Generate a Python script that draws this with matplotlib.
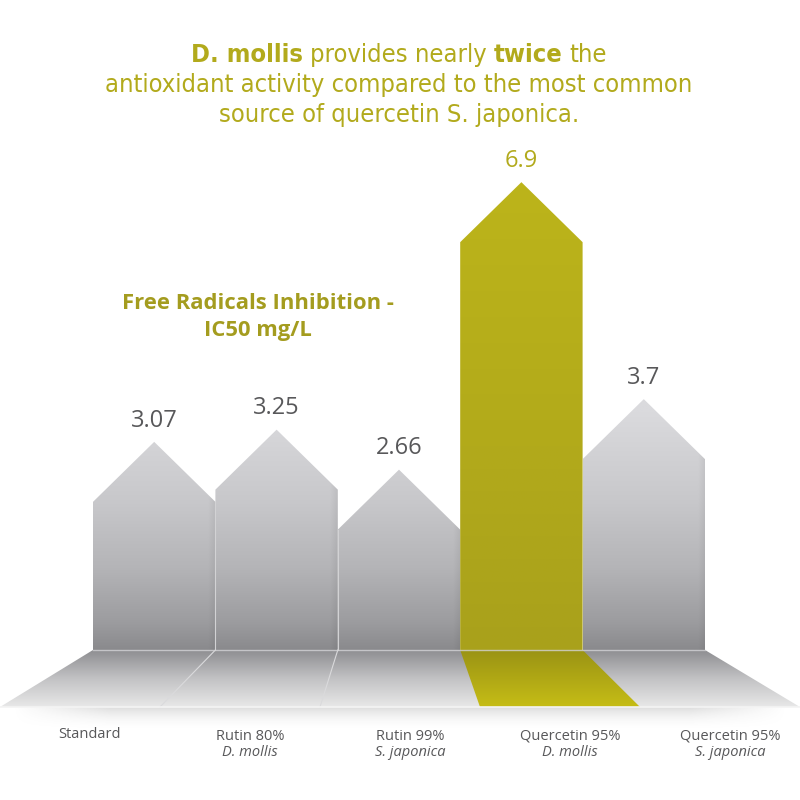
import numpy as np
import matplotlib
matplotlib.use("Agg")
import matplotlib.pyplot as plt
from matplotlib.patches import Polygon
from matplotlib.colors import to_rgb

categories = ["Standard", "Rutin 80%", "Rutin 99%", "Quercetin 95%", "Quercetin 95%"]
sources = ["", "D. mollis", "S. japonica", "D. mollis", "S. japonica"]
values = [3.07, 3.25, 2.66, 6.9, 3.7]
value_labels = ["3.07", "3.25", "2.66", "6.9", "3.7"]
highlight = 3

title_lines = [
    [("D. mollis", "bold"), ("provides nearly", "normal"), ("twice", "bold"), ("the", "normal")],
    [("antioxidant activity compared to the most common", "normal")],
    [("source of quercetin S. japonica.", "normal")],
]
subtitle = "Free Radicals Inhibition -\nIC50 mg/L"

OLIVE = "#b2aa1c"
GRAY_TXT = "#58585a"
TITLE_FONT = ["DejaVu Sans"]
BODY_FONT = ["Open Sans", "DejaVu Sans"]

# scale: pixels per data unit
PX_X = 122.4
PX_Y = 67.8
TIP = 60 / PX_Y

fig = plt.figure(figsize=(8, 8), dpi=100)
ax = fig.add_axes([0, 0, 1, 1])
x0 = -0.5 - 93 / PX_X
x1 = x0 + 800 / PX_X
y0 = -150 / PX_Y
y1 = y0 + 800 / PX_Y
y_front = -57 / PX_Y
n = len(values)


def xb(x):
    # perspective: where a bar edge lands on the front edge of the floor
    return x0 + (x + 0.5) * (x1 - x0) / n


def ramp(pos, stops, cols):
    c = np.array([to_rgb(h) for h in cols])
    return np.stack([np.interp(pos, stops, c[:, k]) for k in range(3)], axis=-1)


def clipped_image(verts, img, extent, z):
    patch = Polygon(verts, closed=True, fc="none", ec="none")
    ax.add_patch(patch)
    im = ax.imshow(img, extent=extent, origin="lower", aspect="auto",
                   interpolation="bilinear", zorder=z)
    im.set_clip_path(patch)
    return im


# floor
fy = np.linspace(y_front, 0, 200)
floor_rgb = ramp((0 - fy) / (0 - y_front), [0, 0.5, 1], ["#8e8e91", "#c2c2c4", "#e8e8e8"])
floor_img = np.repeat(floor_rgb[:, None, :], 4, axis=1)
floor_verts = [(-0.5, 0), (4.5, 0), (xb(4.5), y_front), (xb(-0.5), y_front)]
clipped_image(floor_verts, floor_img, (x0, x1, y_front, 0), 1)

# soft shadow under floor edge
sh_h = 24 / PX_Y
sy = np.linspace(0, 1, 60)
sx = np.linspace(0, 1, 200)
alpha = (sy[:, None] ** 2) * 0.3 * np.clip(np.minimum(sx, 1 - sx)[None, :] * 8, 0, 1)
shadow = np.zeros((60, 200, 4))
shadow[..., :3] = 0.55
shadow[..., 3] = alpha
ax.imshow(shadow, extent=(x0 + 0.1, x1 - 0.1, y_front - sh_h, y_front), origin="lower",
          aspect="auto", interpolation="bilinear", zorder=0.5)

# highlighted strip on the floor
hx = highlight
hy_rgb = ramp((0 - fy) / (0 - y_front), [0, 1], ["#9a9314", "#c6bd16"])
clipped_image([(hx - 0.5, 0), (hx + 0.5, 0), (xb(hx + 0.5), y_front), (xb(hx - 0.5), y_front)],
              np.repeat(hy_rgb[:, None, :], 4, axis=1), (x0, x1, y_front, 0), 1.5)

# bars as arrow shapes
by = np.linspace(0, 7.2, 400)
gray_rgb = ramp(by, [0, 0.4, 1.2, 2.2, 3.5], ["#8a8a8d", "#9c9c9f", "#b4b4b7", "#c8c8cb", "#dadadd"])
u = np.linspace(0, 1, 120)
shade = 1 - 0.06 * np.clip((u - 0.94) / 0.06, 0, 1)
gray_img = gray_rgb[:, None, :] * shade[None, :, None]
yel_rgb = ramp(by, [0, 3, 7.2], ["#a9a11b", "#b2aa1b", "#bdb51a"])
yel_img = np.repeat(yel_rgb[:, None, :], 4, axis=1)

for i, v in enumerate(values):
    verts = [(i - 0.5, 0), (i - 0.5, v - TIP), (i, v), (i + 0.5, v - TIP), (i + 0.5, 0)]
    img = yel_img if i == highlight else gray_img
    clipped_image(verts, img, (i - 0.5, i + 0.5, 0, 7.2), 2)
    ax.annotate(value_labels[i], (i, v), xytext=(0, 11), textcoords="offset points",
                ha="center", va="baseline", fontsize=17, family=BODY_FONT,
                color=OLIVE if i == highlight else GRAY_TXT, zorder=4)

# separators between neighbouring gray bars and on the floor
for i in range(n - 1):
    if highlight in (i, i + 1):
        continue
    top = min(values[i], values[i + 1]) - TIP
    ax.plot([i + 0.5, i + 0.5], [0, top], color="#d2d2d4", lw=0.8, zorder=3)
    ax.plot([i + 0.5, xb(i + 0.5)], [0, y_front], color="#dadadc", lw=0.8, zorder=3)
ax.plot([-0.5, 4.5], [0, 0], color="#d4d4d6", lw=1.0, alpha=0.8, zorder=3)
ax.plot([xb(-0.5), xb(4.5)], [y_front, y_front], color="#f4f4f4", lw=1.2, zorder=3)

# category labels under the floor
for i, (cat, src) in enumerate(zip(categories, sources)):
    lx = xb(i) + 0.08
    if src:
        ax.text(lx, (650 - 736) / PX_Y, cat, ha="center", va="center", fontsize=10.5,
                family=BODY_FONT, color=GRAY_TXT, zorder=4)
        ax.text(lx, (650 - 752) / PX_Y, src, ha="center", va="center", fontsize=10.5,
                family=BODY_FONT, style="italic", color=GRAY_TXT, zorder=4)
    else:
        ax.text(lx, (650 - 734) / PX_Y, cat, ha="center", va="center", fontsize=10.5,
                family=BODY_FONT, color=GRAY_TXT, zorder=4)

ax.text(258 / PX_X + x0, (650 - 317) / PX_Y, subtitle, ha="center", va="center",
        fontsize=15.8, fontweight="bold", fontstretch="normal", family=BODY_FONT,
        color="#a49c1f", linespacing=1.4, zorder=4)

ax.set_xlim(x0, x1)
ax.set_ylim(y0, y1)
ax.axis("off")

# title in a condensed face with mixed bold runs, centred line by line
renderer = fig.canvas.get_renderer()
TITLE_CX = 399
baselines = [62, 92, 122]


def text_width(s, w, size):
    t = fig.text(0, 0, s, fontsize=size, fontweight=w, family=TITLE_FONT, fontstretch="condensed")
    wd = t.get_window_extent(renderer).width
    t.remove()
    return wd


# fit the long middle line to its width in the reference (586 px)
TSIZE = 19 * 586 / text_width(title_lines[1][0][0], "normal", 19)
gap = text_width("x x", "normal", TSIZE) - text_width("xx", "normal", TSIZE)
for runs, base in zip(title_lines, baselines):
    widths = [text_width(s, w, TSIZE) for s, w in runs]
    total = sum(widths) + gap * (len(runs) - 1)
    x = TITLE_CX - total / 2
    for (s, w), wd in zip(runs, widths):
        fig.text(x / 800, 1 - base / 800, s, fontsize=TSIZE, fontweight=w,
                 family=TITLE_FONT, fontstretch="condensed", color=OLIVE,
                 ha="left", va="baseline")
        x += wd + gap

fig.savefig("out.png", dpi=100, facecolor="white")
